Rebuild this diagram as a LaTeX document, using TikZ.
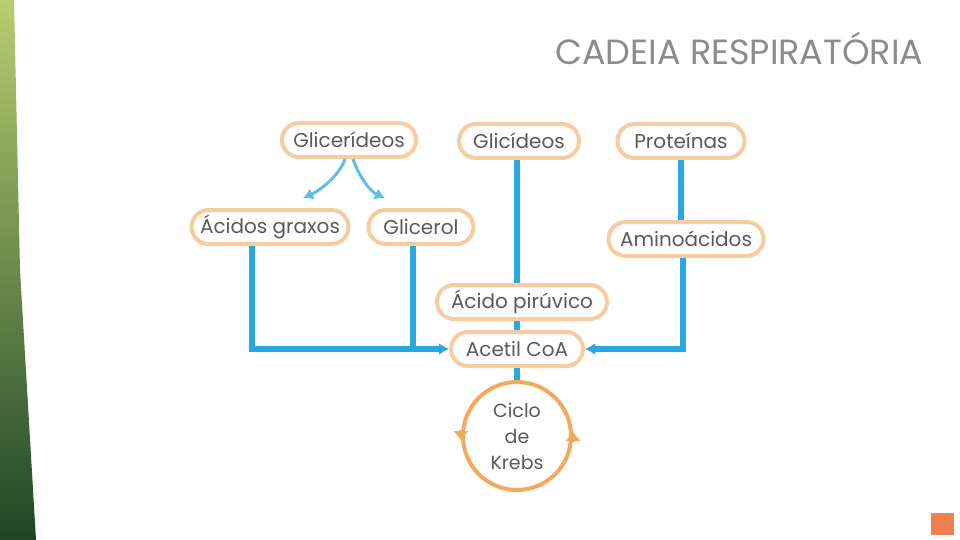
\documentclass[tikz,border=0pt]{standalone}
\usepackage{fontspec}
\setmainfont{Poppins}
\usepackage{xcolor}
\usepackage{tikz}
\usetikzlibrary{arrows.meta}
\definecolor{AzulSeta}{RGB}{41,168,224}
\definecolor{AzulRamo}{RGB}{95,190,232}
\definecolor{LaranjaBorda}{RGB}{246,204,160}
\definecolor{LaranjaCiclo}{RGB}{242,170,95}
\definecolor{LaranjaPagina}{RGB}{240,128,80}
\definecolor{CinzaTexto}{RGB}{90,90,90}
\definecolor{CinzaTitulo}{RGB}{140,140,140}
\definecolor{VerdeClaro}{RGB}{184,206,112}
\definecolor{VerdeMedio}{RGB}{80,135,70}
\definecolor{VerdeEscuro}{RGB}{30,70,38}
\tikzset{
  caixa/.style={rectangle,rounded corners=17pt,draw=LaranjaBorda,line width=4pt,fill=white,
    minimum height=34pt,inner xsep=4pt,text=CinzaTexto,font=\fontsize{20}{24}\selectfont},
  seta/.style={AzulSeta,line width=6pt},
  ramo/.style={AzulRamo,line width=3pt}
}

\begin{document}
\begin{tikzpicture}[x=1pt,y=-1pt,>={Latex[length=10pt,width=12pt]}]
  \useasboundingbox (0,0) rectangle (960,540);
  % faixa verde
  \shade[top color=VerdeClaro,middle color=VerdeMedio,bottom color=VerdeEscuro] (0,0) -- (14,0) -- (20,270) -- (36,540) -- (0,540) -- cycle;
  \node[anchor=east,text=CinzaTitulo,font=\fontsize{35}{40}\selectfont] (titulo) at (927,48) {CADEIA RESPIRATÓRIA};

  \node[caixa,minimum width=134pt] (glicerideos) at (349,140) {Glicerídeos};
  \node[caixa,minimum width=120pt] (glicideos) at (519,141) {Glicídeos};
  \node[caixa,minimum width=127pt] (proteinas) at (681,141) {Proteínas};
  \node[caixa,minimum width=157pt] (acidos) at (270,227) {Ácidos graxos};
  \node[caixa,minimum width=105pt] (glicerol) at (421,227) {Glicerol};
  \node[caixa,minimum width=155pt] (aminoacidos) at (686,239) {Aminoácidos};
  \node[caixa,minimum width=170pt] (piruvico) at (522,302) {Ácido pirúvico};
  \node[caixa,minimum width=132pt] (acetil) at (517,349) {Acetil CoA};
  \node[circle,draw=LaranjaCiclo,line width=4pt,minimum size=108pt,align=center,
    text=CinzaTexto,font=\fontsize{19}{26}\selectfont] (krebs) at (517,436) {Ciclo\\de\\Krebs};

  \draw[ramo,->] ([xshift=-4pt]glicerideos.south) .. controls +(-6,18) and +(14,-6) .. ([xshift=33pt,yshift=10pt]acidos.north);
  \draw[ramo,->] ([xshift=4pt]glicerideos.south) .. controls +(6,18) and +(-14,-6) .. ([xshift=-36pt,yshift=10pt]glicerol.north);

  \draw[seta,->] ([xshift=-18pt]acidos.south) |- (acetil.west);
  \draw[seta] ([xshift=-8pt]glicerol.south) -- ([xshift=-8pt]glicerol.south |- acetil.west);
  \draw[seta] ([xshift=-2pt]glicideos.south) -- ([xshift=-2pt]glicideos.south |- piruvico.north);
  \draw[seta] (piruvico.south -| acetil.north) -- (acetil.north);
  \draw[seta] (proteinas.south) -- (proteinas.south |- aminoacidos.north);
  \draw[seta,->] ([xshift=-3pt]aminoacidos.south) |- (acetil.east);
  \draw[seta] (acetil.south) -- (krebs.north);

  \draw[LaranjaCiclo,line width=4pt,-{Triangle[length=9pt,width=14pt]}] ([yshift=6pt]krebs.west) -- ([yshift=-4pt]krebs.west);
  \draw[LaranjaCiclo,line width=4pt,-{Triangle[length=9pt,width=14pt]}] ([yshift=-6pt]krebs.east) -- ([yshift=4pt]krebs.east);

  \fill[LaranjaPagina] (931,513) rectangle (954,535);
\end{tikzpicture}
\end{document}
